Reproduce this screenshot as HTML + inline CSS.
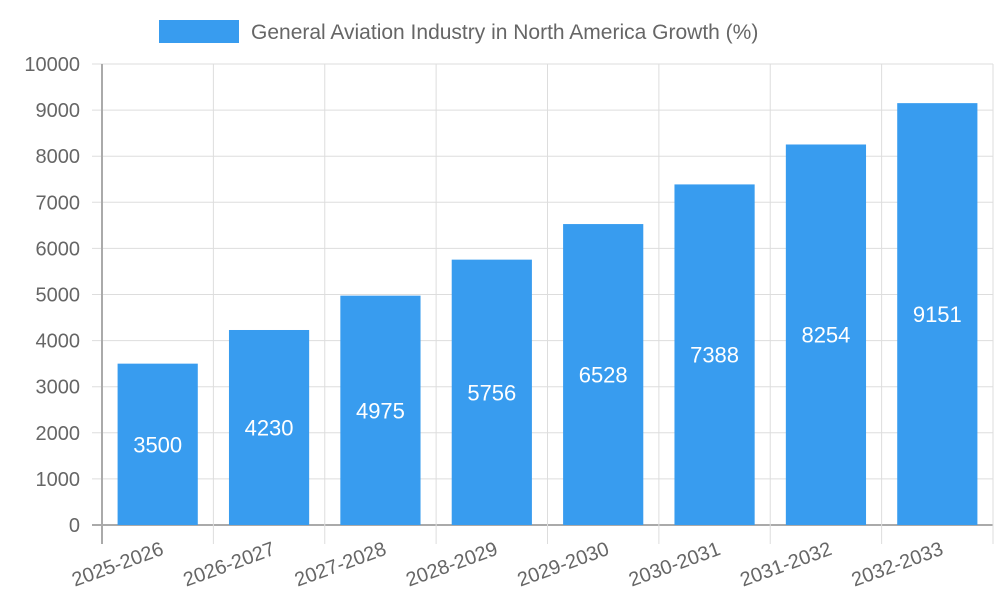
<!DOCTYPE html>
<html><head><meta charset="utf-8"><style>
body{margin:0;background:#fff;font-family:"Liberation Sans",sans-serif}
svg text{font-family:"Liberation Sans",sans-serif}
</style></head><body>
<svg width="1000" height="600" id="chart">
<g>
<rect x="159" y="20" width="80" height="23" fill="#389cef"/>
<text x="251" y="39" font-size="21" fill="#666">General Aviation Industry in North America Growth (%)</text>
</g>
<g id="grid"></g><g id="bars"></g><g id="labels"></g>
</svg>
<script>
const categories=["2025-2026","2026-2027","2027-2028","2028-2029","2029-2030","2030-2031","2031-2032","2032-2033"];
const values=[3500,4230,4975,5756,6528,7388,8254,9151];
const yTicks=[0,1000,2000,3000,4000,5000,6000,7000,8000,9000,10000];
const NS="http://www.w3.org/2000/svg";
const L=102,R=993,T=64,B=525,yMax=10000;
const cw=(R-L)/categories.length;
const y=v=>B-(v/yMax)*(B-T);
const x=i=>L+cw*(i+0.5);
function mk(tag,attrs,parent){const e=document.createElementNS(NS,tag);for(const k in attrs)e.setAttribute(k,attrs[k]);parent.appendChild(e);return e;}
const g=document.getElementById('grid'),gb=document.getElementById('bars'),gl=document.getElementById('labels');
yTicks.forEach(t=>{
 const ln=mk('line',{x1:92,x2:R,y1:y(t),y2:y(t),stroke:t===0?'#aaa':'#ddd','stroke-width':t===0?2:1},g);
 
 
 const tx=mk('text',{x:80,y:y(t)+7,'text-anchor':'end','font-size':20,fill:'#666'},g);
 tx.textContent=t;
 
 
});
for(let i=0;i<=categories.length;i++){
 const xx=L+cw*i;
 const ln=mk('line',{x1:xx,x2:xx,y1:T,y2:544,stroke:i===0?'#aaa':'#ddd','stroke-width':i===0?2:1},g);
 
 
}
categories.forEach((c,i)=>{
 const bw=cw*0.72;
 const r=mk('rect',{x:x(i)-bw/2,y:y(values[i]),width:bw,height:B-y(values[i]),fill:'#389cef'},gb);
 
 
 const v=mk('text',{x:x(i),y:(y(values[i])+B)/2+8,'text-anchor':'middle','font-size':22,fill:'#fff'},gl);
 v.textContent=values[i];
 
 
 const t=mk('text',{x:x(i)+2,y:555,'text-anchor':'end','font-size':20,fill:'#666',transform:`rotate(-20 ${x(i)+2} 540)`},gl);
 t.textContent=c;
 
 
});
</script>
</body></html>
